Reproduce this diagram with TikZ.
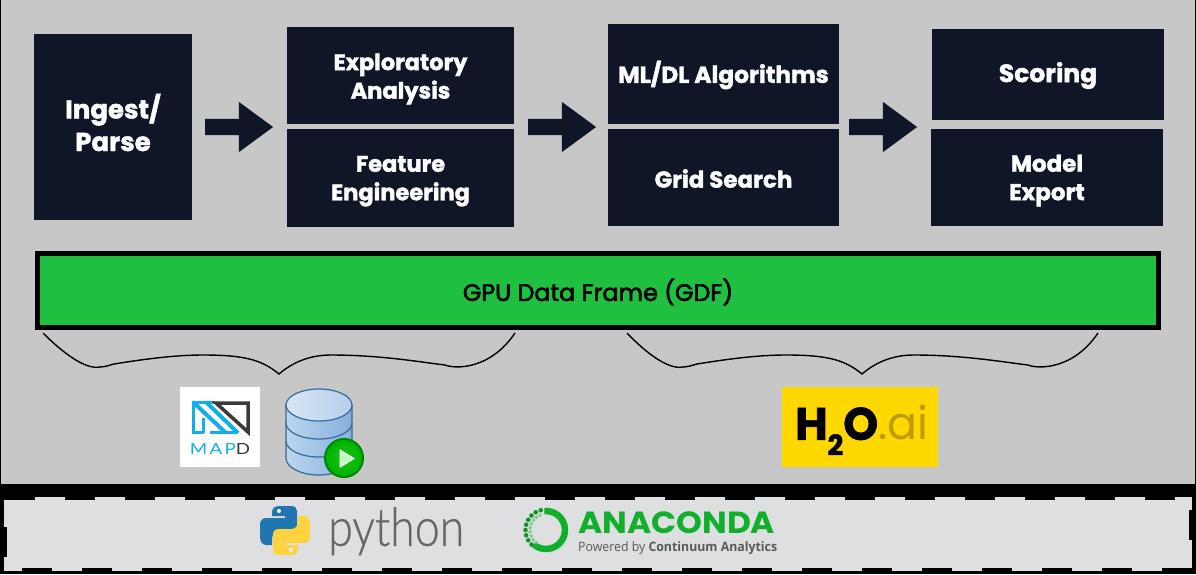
\documentclass[tikz,border=0pt]{standalone}
\usepackage{fontspec}
\setmainfont[BoldFeatures={FakeBold=1.6}]{Poppins}
\newfontfamily\poplain{Poppins}
\newfontfamily\popsemi[FakeBold=2.6]{Poppins}
\newfontfamily\lat[FakeBold=0.5]{Lato Light}
\newfontfamily\ope{Open Sans}
\newfontfamily\mapfont[LetterSpace=12]{Lato}
\usetikzlibrary{shapes.arrows}
\definecolor{navy}{HTML}{0E1628}
\definecolor{panel}{HTML}{C7C7C7}
\definecolor{band}{HTML}{DEDFE1}
\definecolor{barg}{HTML}{1FC040}
\definecolor{anag}{HTML}{10AF2C}
\definecolor{mapb}{HTML}{12AEEA}
\definecolor{mapk}{HTML}{3A3A3E}
\definecolor{hyel}{HTML}{FFD800}
\definecolor{hai}{HTML}{BE9C0A}
\definecolor{pyb}{HTML}{2176B0}
\definecolor{pyy}{HTML}{FFD23F}
\definecolor{dbline}{HTML}{3A6A98}
\definecolor{dbtopa}{HTML}{B4D0EA}
\definecolor{dbtopb}{HTML}{D6E6F5}
\definecolor{dbsidea}{HTML}{86B0DC}
\definecolor{dbsideb}{HTML}{BAD6F0}
\tikzset{
  x=1pt,y=-1pt,
  stage/.style={fill=navy,inner sep=0pt},
  stagetext/.style={text=white,inner sep=0pt,align=center,yshift=-2.5pt,
    font=\fontsize{#1}{28.5}\selectfont\bfseries},
  stagetext/.default=22.5,
  blockarrow/.style={single arrow,fill=navy,inner xsep=0pt,inner ysep=8pt,minimum height=68pt,minimum width=50pt,
    single arrow head extend=17pt,single arrow tip angle=72.6,single arrow head indent=0pt},
  curlybrace/.style={draw=black,line width=1.4pt},
  logotext/.style={inner sep=0pt,anchor=north west},
}
\begin{document}
\begin{tikzpicture}
\useasboundingbox (0,0) rectangle (1196,574);
\fill[black] (0,0) rectangle (1196,574);
\fill[panel] (1,0) rectangle (1195,484);
% lower band with its notched edges
\fill[band] (4,500) rectangle (1192,568);
\fill[black] (4,527) rectangle (7,557);
\fill[black] (1189,510) rectangle (1192,540);
\foreach \t in {35,95,...,1115} \fill[band] (\t,497) rectangle (\t+30,500);
\fill[band] (1175,497) rectangle (1192,500);
\fill[band] (4,568) rectangle (22,571);
\foreach \t in {52,112,...,1132} \fill[band] (\t,568) rectangle (\t+30,571);

% stages
\node[stage,minimum width=158pt,minimum height=186pt] (ingest) at (113,127) {};
\node[stagetext={26},font=\fontsize{26}{32.5}\selectfont\bfseries,yshift=7pt] (ingestT) at (ingest) {Ingest/\\Parse};
\node[stage,minimum width=227pt,minimum height=97pt] (explore) at (400.5,75.5) {};
\node[stagetext,yshift=-1pt] (exploreT) at (explore) {Exploratory\\Analysis};
\node[stage,minimum width=227pt,minimum height=98pt] (feature) at (400.5,178) {};
\node[stagetext,yshift=-0.7pt] (featureT) at (feature) {Feature\\Engineering};
\node[stage,minimum width=231pt,minimum height=100pt] (mldl) at (723.5,74) {};
\node[stagetext={23.3},yshift=1.5pt] (mldlT) at (mldl) {ML/DL Algorithms};
\node[stage,minimum width=231pt,minimum height=97pt] (grid) at (723.5,177.5) {};
\node[stagetext={23},yshift=1.5pt] (gridT) at (grid) {Grid Search};
\node[stage,minimum width=232pt,minimum height=91pt] (scoring) at (1048,74.5) {};
\node[stagetext={25},yshift=1.5pt] (scoringT) at (scoring) {Scoring};
\node[stage,minimum width=232pt,minimum height=97pt] (export) at (1047,177.5) {};
\node[stagetext={23},yshift=-0.5pt] (exportT) at (export) {Model\\Export};

% arrows
\node[blockarrow] (a1) at (233.5,127) {};
\node[blockarrow] (a2) at (556.5,127) {};
\node[blockarrow] (a3) at (877.5,127) {};

% GDF bar
\node[draw=black,line width=5pt,fill=barg,inner sep=0pt,minimum width=1121pt,minimum height=74pt] (gdf) at (598,290.5) {};
\node[inner sep=0pt,text=black,yshift=-1.5pt,font=\fontsize{23.8}{25}\popsemi] (gdfT) at (gdf) {GPU Data Frame (GDF)};

% braces
\coordinate (b1l) at (43,333);
\coordinate (b1t) at (279,374);
\coordinate (b1r) at (515,333);
\coordinate (b2l) at (627,333);
\coordinate (b2t) at (862,374);
\coordinate (b2r) at (1098,333);
\draw[curlybrace] (b1l) .. controls (62,352) and (85,370) .. (100,367)
  .. controls (105,367) and (110,365) .. (114,364)
  .. controls (145,359) and (175,355) .. (203,355)
  .. controls (245,355) and (262,360) .. (b1t)
  .. controls (293,362) and (310,355) .. (331,355)
  .. controls (380,355) and (420,362) .. (445,365)
  .. controls (455,369) and (490,370) .. (b1r);
\draw[curlybrace] (b2l) .. controls (645,352) and (668,370) .. (683,367)
  .. controls (688,367) and (693,365) .. (697,364)
  .. controls (728,359) and (758,355) .. (786,355)
  .. controls (828,355) and (845,360) .. (b2t)
  .. controls (876,362) and (893,355) .. (914,355)
  .. controls (963,355) and (1003,362) .. (1028,365)
  .. controls (1038,369) and (1073,370) .. (b2r);

% MapD logo
\fill[white] (180,387) rectangle (260,467);
\draw[mapb,line width=3pt,line join=miter] (203,433) -- (203,418);
\draw[mapb,line width=3pt,line join=miter] (193,433) -- (193,402) -- (215,402);
\draw[mapb,line width=4pt] (193,402) -- (226,433);
\draw[mapb,line width=4pt] (206,402) -- (238,433);
\draw[mapb,line width=3pt] (192,432) -- (204,432);
\draw[mapb,line width=3pt] (210,432) -- (238,432);
\draw[mapk,line width=3.5pt,line join=miter] (216,403) -- (248,403) -- (248,432) -- cycle;
\node[inner sep=0pt,anchor=center] (maptext) at (220,449)
  {\resizebox{60pt}{11pt}{\mapfont\textcolor{mapb}{MAP}\textcolor{mapk}{D}}};

% database icon
\shade[left color=dbsideb,right color=dbsidea,draw=dbline,line width=1.2pt]
  (286,405) -- (286,458) arc[start angle=180,end angle=360,x radius=33pt,y radius=17pt] -- (352,405) -- cycle;
\draw[dbline,line width=1.2pt] (286,423) arc[start angle=180,end angle=360,x radius=33pt,y radius=16pt];
\draw[dbline,line width=1.2pt] (286,441) arc[start angle=180,end angle=360,x radius=33pt,y radius=16pt];
\shade[left color=dbtopb,right color=dbtopa,draw=dbline,line width=1.2pt]
  (319,405) ellipse[x radius=33pt,y radius=16pt];
\fill[green!50!black] (344,458) circle[radius=20pt];
\shade[inner color=green!75!black!90!white,outer color=green!70!black] (344,458) circle[radius=18pt];
\fill[green!25!white,draw=white,line width=1pt] (340,450) -- (340,467) -- (354,458.5) -- cycle;

% H2O logo
\fill[hyel] (782,387) rectangle (938,467);
\node[inner sep=0pt,anchor=north west] (h2o) at (795,405)
  {\resizebox*{133pt}{50pt}{\bfseries H\raisebox{-0.34em}{\scalebox{0.62}{2}}O\textcolor{hai}{\mdseries .ai}}};

% python logo
\begin{scope}
\fill[pyb] (278,506) -- (291,506) .. controls (295,506) and (297,508) .. (297,511) -- (297,526)
  .. controls (297,530) and (295,532) .. (291,532) -- (279,532)
  .. controls (275,532) and (272,535) .. (272,539) -- (272,545) -- (266,545)
  .. controls (262,545) and (260,541) .. (260,537) -- (260,525)
  .. controls (260,521) and (262,518) .. (266,518) -- (285,518) -- (285,516) -- (272,516) -- (272,511)
  .. controls (272,508) and (275,506) .. (278,506) -- cycle;
\fill[white] (279,511) circle[radius=2pt];
\end{scope}
\begin{scope}[rotate around={180:(285,530.5)}]
\fill[pyy] (278,506) -- (291,506) .. controls (295,506) and (297,508) .. (297,511) -- (297,526)
  .. controls (297,530) and (295,532) .. (291,532) -- (279,532)
  .. controls (275,532) and (272,535) .. (272,539) -- (272,545) -- (266,545)
  .. controls (262,545) and (260,541) .. (260,537) -- (260,525)
  .. controls (260,521) and (262,518) .. (266,518) -- (285,518) -- (285,516) -- (272,516) -- (272,511)
  .. controls (272,508) and (275,506) .. (278,506) -- cycle;
\fill[white] (279,511) circle[radius=2pt];
\end{scope}
\node[logotext] (python) at (328,507) {\resizebox*{136pt}{48pt}{\lat\textcolor{black!60}{python}}};

% Anaconda logo
\draw[anag,line width=6.5pt] (546,530) ++(95:19pt) arc[start angle=95,end angle=-130,radius=19pt];
\foreach \a in {105,120,...,225} {
  \fill[anag!85!black] (546,530) ++(\a:20.5pt) circle[radius=2.3pt];
  \fill[anag!60!white] (546,530) ++(\a+7:16pt) circle[radius=1.9pt];
}
\node[logotext] (ana) at (578,512) {\resizebox*{197pt}{22pt}{\textcolor{anag}{\poplain\bfseries ANACONDA}}};
\node[logotext] (pow) at (578,541.5) {\resizebox*{199pt}{13pt}{\ope\textcolor{black!65}{Powered by \bfseries Continuum Analytics}}};
\end{tikzpicture}
\end{document}
